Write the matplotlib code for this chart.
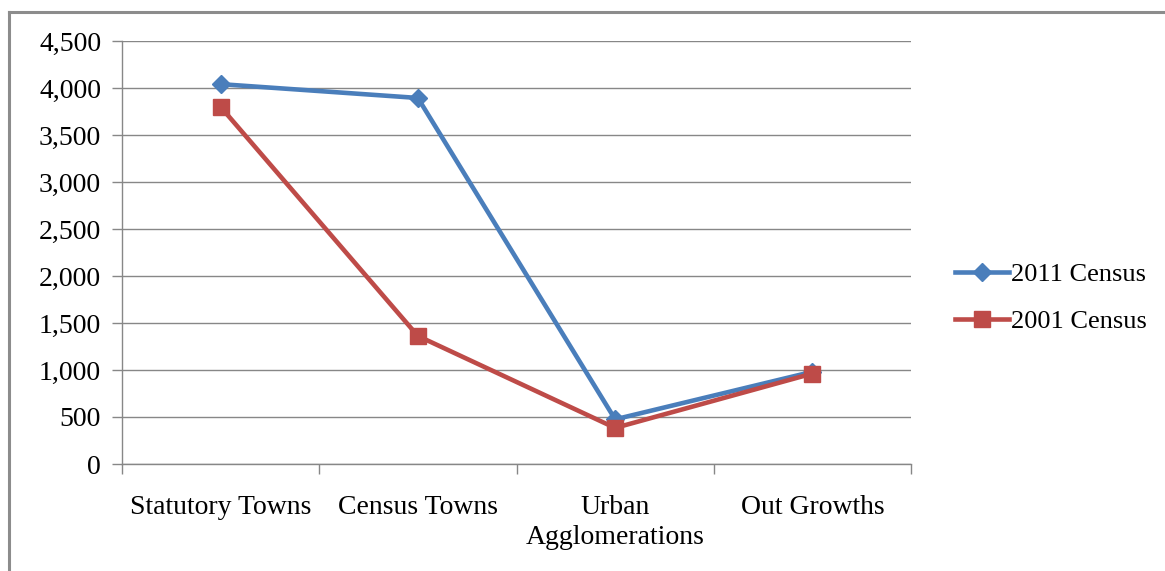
import matplotlib
matplotlib.use("Agg")
import matplotlib.pyplot as plt
from matplotlib.lines import Line2D
from matplotlib.ticker import FuncFormatter, MultipleLocator

categories = ["Statutory Towns", "Census Towns", "Urban\nAgglomerations", "Out Growths"]
census_2011 = [4041, 3894, 475, 981]
census_2001 = [3799, 1362, 384, 962]
series_labels = ["2011 Census", "2001 Census"]

W, H = 1165, 571
fig = plt.figure(figsize=(W / 100, H / 100), dpi=100)
plt.rcParams["font.family"] = ["Liberation Serif", "DejaVu Serif"]

# axes box in pixel coordinates
x0, x1, y_top, y_bot = 122, 911, 41, 464
ax = fig.add_axes([x0 / W, 1 - y_bot / H, (x1 - x0) / W, (y_bot - y_top) / H])

grid_col = "#878787"
blue = "#4A7EBB"
red = "#BE4B48"

xs = range(len(categories))
ax.plot(xs, census_2011, color=blue, lw=3.3, marker="D", ms=9,
        label=series_labels[0], zorder=3, solid_joinstyle="round")
ax.plot(xs, census_2001, color=red, lw=3.3, marker="s", ms=12,
        label=series_labels[1], zorder=4, solid_joinstyle="round")

ax.set_xlim(-0.5, len(categories) - 0.5)
ax.set_ylim(0, 4500)
ax.yaxis.set_major_locator(MultipleLocator(500))
ax.yaxis.set_major_formatter(FuncFormatter(lambda v, p: f"{int(v):,}"))
ax.grid(axis="y", color=grid_col, lw=1.0)
ax.set_axisbelow(True)

ax.set_xticks([i + 0.5 for i in range(-1, len(categories))], minor=False)
ax.set_xticklabels([])
ax.set_xticks(list(xs), minor=True)
ax.set_xticklabels(categories, minor=True, fontsize=20, linespacing=1.3)
ax.tick_params(axis="x", which="major", length=7, color=grid_col, width=1, direction="out")
ax.tick_params(axis="x", which="minor", length=0, pad=22)
ax.tick_params(axis="y", length=7, color=grid_col, width=1, labelsize=20, pad=8)

for s in ["top", "right"]:
    ax.spines[s].set_visible(False)
for s in ["left", "bottom"]:
    ax.spines[s].set_color(grid_col)
    ax.spines[s].set_linewidth(1)

leg = fig.legend(loc="center left", bbox_to_anchor=(942 / W, 1 - 298 / H),
                 frameon=False, fontsize=19, handlelength=2.05,
                 handletextpad=0.08, labelspacing=0.9, borderpad=0)

# outer frame: top and left edges
fig.add_artist(Line2D([9 / W, 1], [1 - 12 / H, 1 - 12 / H], color="#8c8c8c", lw=2.2,
                      transform=fig.transFigure))
fig.add_artist(Line2D([9 / W, 9 / W], [0, 1 - 12 / H], color="#8c8c8c", lw=2.2,
                      transform=fig.transFigure))

fig.savefig("out.png", dpi=100, facecolor="white")
